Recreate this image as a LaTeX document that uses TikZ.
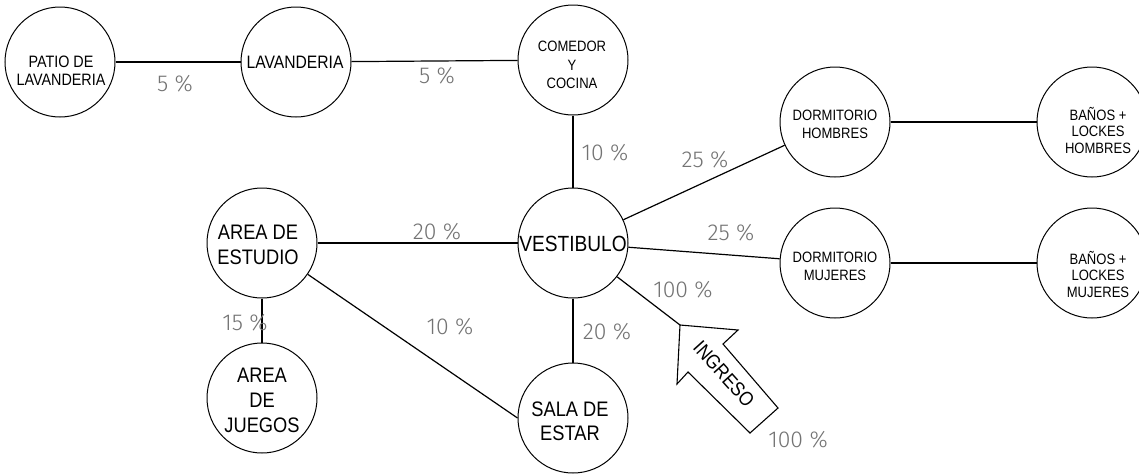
\documentclass[tikz,border=0pt]{standalone}
\usepackage{fontspec}
\newfontfamily\cad[FakeStretch=0.87]{Liberation Sans}
\newfontfamily\pctfont{Fira Sans Light}
\usetikzlibrary{calc}
\begin{document}
\begin{tikzpicture}[x=1pt,y=-1pt,
  room/.style={circle,draw=black,line width=1pt,minimum size=110pt,inner sep=0pt},
  rtext/.style={align=center,inner sep=0pt,font=\cad},
  conn/.style={line width=1.2pt,black},
  pct/.style={text=black!55,inner sep=0pt,font=\pctfont\fontsize{23}{23}\selectfont}]
\clip (0,0) rectangle (1139,474);
\fill[white] (0,0) rectangle (1139,474);
% rooms
\node[room] (pat) at (60,62) {};
\node[room] (lav) at (296,62) {};
\node[room] (com) at (573,60) {};
\node[room] (dh)  at (835,122) {};
\node[room] (bh)  at (1092,122) {};
\node[room] (est) at (262,243) {};
\node[room] (ves) at (573,243) {};
\node[room] (dm)  at (835,263) {};
\node[room] (bm)  at (1092,263) {};
\node[room] (jue) at (262,398) {};
\node[room] (sal) at (573,418) {};
% texts
\node[rtext,font=\cad\fontsize{16.5}{18}\selectfont] (tpat) at (61,71) {PATIO DE\\LAVANDERIA};
\node[rtext,font=\cad\fontsize{18}{20}\selectfont] (tlav) at (295,62) {LAVANDERIA};
\node[rtext,font=\cad\fontsize{15}{18.5}\selectfont] (tcom) at (572,65) {COMEDOR\\Y\\COCINA};
\node[rtext,font=\cad\fontsize{15}{18}\selectfont] (tdh) at (835,124) {DORMITORIO\\HOMBRES};
\node[rtext,font=\cad\fontsize{15}{16.5}\selectfont] (tbh) at (1098,130) {BAÑOS +\\LOCKES\\HOMBRES};
\node[rtext,font=\cad\fontsize{15}{18}\selectfont] (tdm) at (835,266) {DORMITORIO\\MUJERES};
\node[rtext,font=\cad\fontsize{15}{16.5}\selectfont] (tbm) at (1098,274) {BAÑOS +\\LOCKES\\MUJERES};
\node[rtext,font=\cad\fontsize{21}{25}\selectfont] (test) at (258,245) {AREA DE\\ESTUDIO};
\node[rtext,font=\cad\fontsize{22}{25}\selectfont] (tves) at (573,244) {VESTIBULO};
\node[rtext,font=\cad\fontsize{21}{25}\selectfont] (tjue) at (262,400) {AREA\\DE\\JUEGOS};
\node[rtext,font=\cad\fontsize{21}{24}\selectfont] (tsal) at (570,421) {SALA DE\\ESTAR};
% connectors
\draw[conn] (pat) -- (lav);
\draw[conn] (lav) -- (com);
\draw[conn] (com) -- (ves);
\draw[conn] (ves) -- (dh);
\draw[conn] (ves) -- (dm);
\draw[conn] (dh) -- (bh);
\draw[conn] (dm) -- (bm);
\draw[conn] (est) -- (ves);
\draw[conn] (est) -- (jue);
\draw[conn] (ves) -- (sal);
\draw[conn] (est) -- (sal.west);
% entrance arrow
\coordinate (tip) at (680,325);
\draw[conn] (ves) -- (tip);
\draw[line width=1.1pt,line join=miter] (tip) -- (738,330) -- (723,344) -- (778,408) -- (750,433) -- (688,372) -- (677,384) -- cycle;
\node[rtext,font=\cad\fontsize{20}{20}\selectfont,rotate=-48] (ting) at (724,374) {INGRESO};
% percentages
\node[pct] (p1) at (175,84) {5 \%};
\node[pct] (p2) at (437,76) {5 \%};
\node[pct] (p3) at (605,153) {10 \%};
\node[pct] (p4) at (705,160) {25 \%};
\node[pct] (p5) at (731,233) {25 \%};
\node[pct] (p6) at (437,232) {20 \%};
\node[pct] (p7) at (245,323) {15 \%};
\node[pct] (p8) at (450,327) {10 \%};
\node[pct] (p9) at (607,332) {20 \%};
\node[pct] (p10) at (683,290) {100 \%};
\node[pct] (p11) at (798,440) {100 \%};
\end{tikzpicture}
\end{document}
